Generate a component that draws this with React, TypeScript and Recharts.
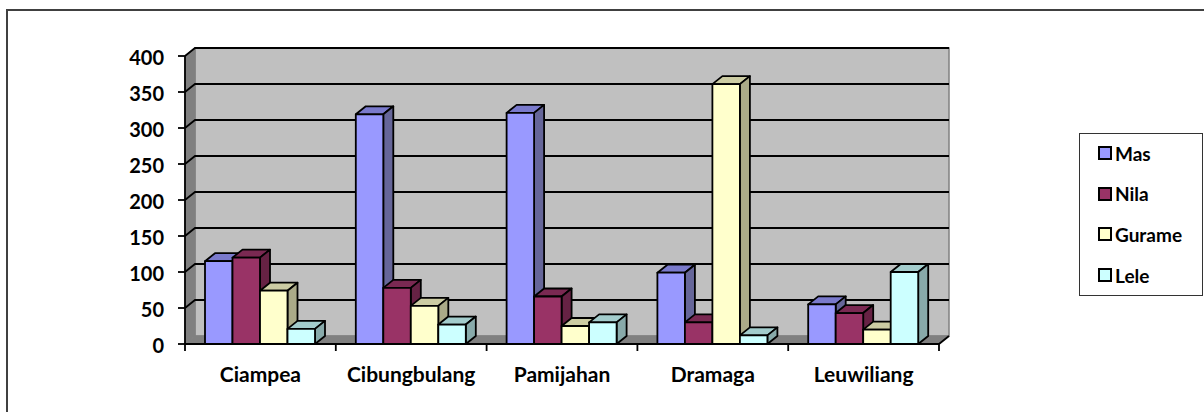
import React from "react";
import { BarChart, Bar, XAxis, YAxis, usePlotArea } from "recharts";

const categories = ["Ciampea", "Cibungbulang", "Pamijahan", "Dramaga", "Leuwiliang"];
const mas = [115, 319, 321, 99, 55];
const nila = [120, 78, 66, 30, 43];
const gurame = [74, 53, 25, 361, 20];
const lele = [21, 27, 30, 12, 100];
const yTicks = [0, 50, 100, 150, 200, 250, 300, 350, 400];
const yMax = 400;
const seriesNames = ["Mas", "Nila", "Gurame", "Lele"];
const fronts = ["#9999FF", "#993366", "#FFFFCC", "#CCFFFF"];
const tops = ["#7A7ACC", "#7A2952", "#CCCCA3", "#A3CCCC"];
const sides = ["#666699", "#662244", "#AAAA88", "#88AAAA"];

const data = categories.map((name, i) => ({
  name,
  Mas: mas[i],
  Nila: nila[i],
  Gurame: gurame[i],
  Lele: lele[i],
}));

const FONT = "Lato, 'Open Sans', sans-serif";
const DX = 10;
const DY = 8;
const LINE = 1.8;

function Walls() {
  const p = usePlotArea();
  if (!p) return null;
  const { x, y, width, height } = p;
  const b = y + height;
  const r = x + width;
  return (
    <g>
      <polygon points={`${x + DX},${y - DY} ${r + DX},${y - DY} ${r + DX},${b - DY} ${x + DX},${b - DY}`} fill="#C0C0C0" stroke="#808080" strokeWidth={1.5} />
      <polygon points={`${x},${y} ${x + DX},${y - DY} ${x + DX},${b - DY} ${x},${b}`} fill="#808080" stroke="#808080" strokeWidth={1} />
      <polygon points={`${x},${b} ${x + DX},${b - DY} ${r + DX},${b - DY} ${r},${b}`} fill="#808080" stroke="#808080" strokeWidth={1} />
      {yTicks
        .filter((t) => t > 0)
        .map((t) => {
          const ty = y + height * (1 - t / yMax);
          return (
            <polyline
              key={t}
              points={`${x},${ty} ${x + DX},${ty - DY} ${r + DX},${ty - DY}`}
              fill="none"
              stroke="#000"
              strokeWidth={LINE}
            />
          );
        })}
    </g>
  );
}

function AxisFrame() {
  const p = usePlotArea();
  if (!p) return null;
  const { x, y, width, height } = p;
  const b = y + height;
  const r = x + width;
  const band = width / categories.length;
  return (
    <g stroke="#000" strokeWidth={LINE}>
      <line x1={x} y1={y} x2={x} y2={b} />
      <line x1={x} y1={b} x2={r} y2={b} />
      <line x1={r} y1={b} x2={r + DX} y2={b - DY} />
      {categories.map((_, i) => (
        <line key={i} x1={x + band * i} y1={b} x2={x + band * i} y2={b + 7} />
      ))}
      <line x1={r} y1={b} x2={r} y2={b + 7} />
    </g>
  );
}

function Box3D(props: any) {
  const { x, y, width, height, idx } = props;
  const r = x + width;
  const b = y + height;
  const common = { stroke: "#000", strokeWidth: LINE, strokeLinejoin: "round" as const };
  return (
    <g>
      <polygon points={`${x},${y} ${x + DX},${y - DY} ${r + DX},${y - DY} ${r},${y}`} fill={tops[idx]} {...common} />
      <polygon points={`${r},${y} ${r + DX},${y - DY} ${r + DX},${b - DY} ${r},${b}`} fill={sides[idx]} {...common} />
      <rect x={x} y={y} width={width} height={height} fill={fronts[idx]} {...common} />
    </g>
  );
}

function LegendBox() {
  return (
    <div
      style={{
        position: "absolute",
        left: 1079,
        top: 133,
        width: 122,
        height: 161,
        border: "1px solid #333",
        background: "#fff",
        fontFamily: FONT,
        fontWeight: 700,
        fontSize: 19,
        color: "#000",
        boxSizing: "content-box",
      }}
    >
      {seriesNames.map((n, i) => (
        <div
          key={n}
          style={{ position: "absolute", left: 18, top: 8 + i * 40.7, height: 22, display: "flex", alignItems: "center" }}
        >
          <span
            style={{
              width: 10,
              height: 10,
              background: fronts[i],
              border: "2px solid #000",
              marginRight: 3,
              display: "inline-block",
              boxSizing: "content-box",
            }}
          />
          {n}
        </div>
      ))}
    </div>
  );
}

export default function App() {
  return (
    <div style={{ position: "absolute", left: 0, top: 0, width: 1204, height: 412, background: "#fff", overflow: "hidden" }}>
      <div style={{ position: "absolute", left: 6, top: 9, width: 1198, height: 403, borderLeft: "2px solid #404040", borderTop: "2px solid #404040", boxSizing: "border-box" }} />
      <BarChart
        width={1204}
        height={412}
        data={data}
        margin={{ top: 56, right: 265, bottom: 38, left: 0 }}
        barSize={27.5}
        barGap={0}
        style={{ position: "absolute", left: 0, top: 0 }}
      >
        <Walls />
        <XAxis
          dataKey="name"
          height={30}
          axisLine={false}
          tickLine={false}
          interval={0}
          tickMargin={17}
          tick={{ fill: "#000", fontFamily: FONT, fontWeight: 700, fontSize: 21 }}
        />
        <YAxis
          width={185}
          domain={[0, yMax]}
          ticks={yTicks}
          interval={0}
          axisLine={false}
          tickSize={7}
          tickMargin={14}
          tickLine={{ stroke: "#000", strokeWidth: LINE }}
          tick={{ fill: "#000", fontFamily: FONT, fontWeight: 700, fontSize: 20, dy: 2 }}
        />
        <AxisFrame />
        {seriesNames.map((n, idx) => (
          <Bar key={n} dataKey={n} isAnimationActive={false} shape={(p: any) => <Box3D {...p} idx={idx} />} />
        ))}
      </BarChart>
      <LegendBox />
    </div>
  );
}
